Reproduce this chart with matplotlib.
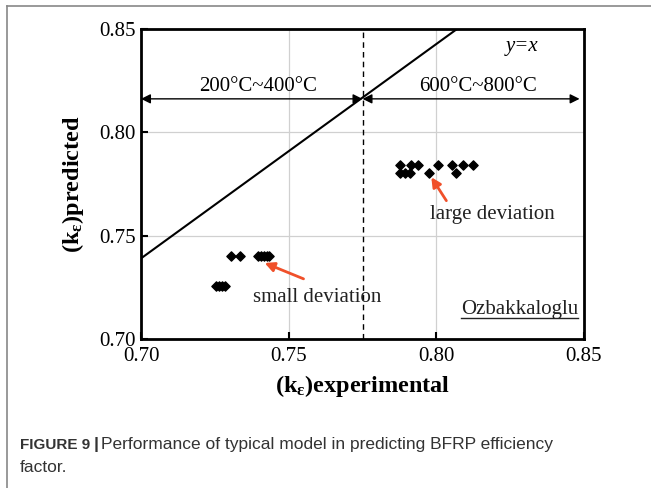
import numpy as np
import matplotlib
matplotlib.use("Agg")
from matplotlib import pyplot as plt
from matplotlib.lines import Line2D

# 数据
low_x = [0.7255, 0.7265, 0.7275, 0.7285, 0.7305, 0.7335, 0.7395, 0.7405, 0.7415, 0.7425, 0.7432]
low_y = [0.7255, 0.7255, 0.7255, 0.7255, 0.740, 0.740, 0.740, 0.740, 0.740, 0.740, 0.740]
high_x = [0.7877, 0.7915, 0.7938, 0.8005, 0.8052, 0.809, 0.8124,
          0.7877, 0.7895, 0.7912, 0.7975, 0.8065]
high_y = [0.7842, 0.7842, 0.7842, 0.7842, 0.7842, 0.7842, 0.7842,
          0.7805, 0.7805, 0.7805, 0.7805, 0.7805]
yx_x = [0.70, 0.807]
yx_y = [0.739, 0.85]
split_x = 0.775
arrow_y = 0.8162
xticks = [0.70, 0.75, 0.80, 0.85]
yticks = [0.70, 0.75, 0.80, 0.85]

plt.rcParams['font.family'] = ['Liberation Serif', 'DejaVu Serif']
plt.rcParams['mathtext.fontset'] = 'custom'
plt.rcParams['mathtext.rm'] = 'Liberation Serif:bold'
plt.rcParams['mathtext.it'] = 'Liberation Serif:bold'
plt.rcParams['mathtext.bf'] = 'Liberation Serif:bold'

fig = plt.figure(figsize=(6.51, 4.88), dpi=100)
ax = fig.add_axes([141/651, 1-339/488, 443/651, 310/488])

ax.set_xlim(0.70, 0.85)
ax.set_ylim(0.70, 0.85)
ax.set_xticks(xticks)
ax.set_yticks(yticks)
ax.set_xticklabels(["%.2f" % v for v in xticks], fontsize=15)
ax.set_yticklabels(["%.2f" % v for v in yticks], fontsize=15)
ax.tick_params(direction='in', length=5, width=1.5, pad=4)
ax.tick_params(axis='x', pad=6)
ax.grid(True, color='#d0d0d0', lw=0.9)
ax.set_axisbelow(True)
for s in ax.spines.values():
    s.set_linewidth(2)

# y=x 线和分界虚线
ax.plot(yx_x, yx_y, color='black', lw=1.5)
ax.axvline(split_x, color='black', ls=(0, (4, 3)), lw=1)

# 双向箭头
arr = dict(arrowstyle='<|-|>', color='black', lw=1, mutation_scale=14, shrinkA=0, shrinkB=0)
ax.annotate('', xy=(0.70, arrow_y), xytext=(split_x, arrow_y), arrowprops=arr)
ax.annotate('', xy=(split_x, arrow_y), xytext=(0.8485, arrow_y), arrowprops=arr)
ax.text(0.7398, 0.822, '200°C~400°C', ha='center', va='center', fontsize=15)
ax.text(0.8140, 0.822, '600°C~800°C', ha='center', va='center', fontsize=15)
ax.text(0.829, 0.8413, 'y=x', style='italic', ha='center', va='center', fontsize=15)

# 数据点
ax.scatter(low_x, low_y, marker='D', s=22, color='black', zorder=3)
ax.scatter(high_x, high_y, marker='D', s=22, color='black', zorder=3)

# 红色箭头
red = dict(arrowstyle='-|>', color='#f0502a', lw=2, mutation_scale=14)
ax.annotate('', xy=(0.741, 0.7373), xytext=(0.7559, 0.7286), arrowprops=red)
ax.annotate('', xy=(0.7978, 0.7794), xytext=(0.8039, 0.7658), arrowprops=red)
ax.text(0.7596, 0.7203, 'small deviation', ha='center', va='center', fontsize=15, color='#222222')
ax.text(0.8189, 0.7600, 'large deviation', ha='center', va='center', fontsize=15, color='#222222')
ax.text(0.8282, 0.7145, 'Ozbakkaloglu', ha='center', va='center', fontsize=15, color='#222222')
ax.plot([0.8085, 0.8478], [0.7103, 0.7103], color='#222222', lw=1)

ax.set_xlabel(r'(k$_{ε}$)experimental', fontsize=17.5, fontweight='bold')
ax.set_ylabel(r'(k$_{ε}$)predicted', fontsize=17.5, fontweight='bold')
ax.xaxis.set_label_coords(0.5, -0.11)
ax.yaxis.set_label_coords(-0.125, 0.5)

# 图框和图注
fig.add_artist(Line2D([7/651, 1], [1-6/488, 1-6/488], color='#888888', lw=1.2))
fig.add_artist(Line2D([7/651, 7/651], [0, 1-6/488], color='#888888', lw=1.2))
fig.text(20/651, 1-445/488, 'FIGURE 9', fontsize=11, fontweight='bold',
         family=['Liberation Sans'], color='#333333', va='center')
fig.text(94/651, 1-445/488, '|', fontsize=12.5, fontweight='bold',
         family=['Liberation Sans'], color='#333333', va='center')
fig.text(101/651, 1-445/488, 'Performance of typical model in predicting BFRP efficiency',
         fontsize=12.5, family=['Liberation Sans'], color='#333333', va='center')
fig.text(20/651, 1-468/488, 'factor.', fontsize=12.5, family=['Liberation Sans'],
         color='#333333', va='center')

fig.savefig('out.png', dpi=100)
